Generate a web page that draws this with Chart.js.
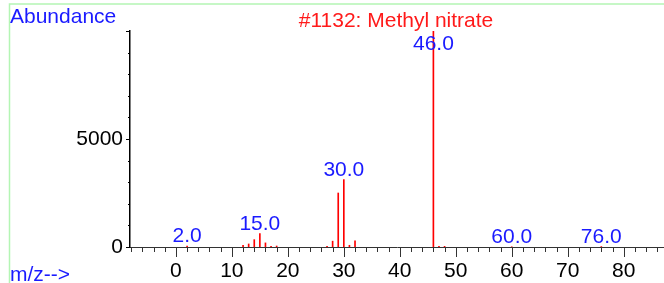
<!DOCTYPE html>
<html>
<head>
<meta charset="utf-8">
<script src="https://cdn.jsdelivr.net/npm/chart.js@4/dist/chart.umd.min.js"></script>
<style>
html,body{margin:0;padding:0;background:#fff;overflow:hidden;}
canvas{display:block;}
</style>
</head>
<body>
<canvas id="c" width="664" height="283"></canvas>
<script>
// m/z values and their abundances
const mz = [2, 12, 13, 14, 15, 16, 17, 18, 27, 28, 29, 30, 31, 32, 46, 47, 48, 60, 76];
const abundance = [40, 80, 140, 340, 620, 190, 30, 45, 30, 270, 2500, 3120, 80, 280, 9999, 30, 30, 10, 20];
// peaks that get a text label
const labeledPeaks = [2, 15, 30, 46, 60, 76];
// y tick values that get a text label
const yLabelTicks = [0, 5000];
const titleText = '#1132: Methyl nitrate';
const yAxisTitle = 'Abundance';
const xAxisTitle = 'm/z-->';

const FONT = '"Liberation Sans", Arial, sans-serif';
const FS = 21;

const decor = {
  id: 'decor',
  beforeDraw(chart) {
    const ctx = chart.ctx;
    ctx.save();
    ctx.fillStyle = '#fff';
    ctx.fillRect(0, 0, chart.width, chart.height);
    ctx.strokeStyle = '#b4f5b4';
    ctx.lineWidth = 1.5;
    ctx.beginPath();
    ctx.moveTo(9.5, chart.height);
    ctx.lineTo(9.5, 4);
    ctx.lineTo(chart.width, 4);
    ctx.stroke();
    ctx.restore();
  },
  afterDraw(chart) {
    const ctx = chart.ctx;
    const xs = chart.scales.x, ys = chart.scales.y;
    const ca = chart.chartArea;
    ctx.save();
    // x ticks
    ctx.strokeStyle = '#333';
    ctx.lineWidth = 1;
    for (let v = -8; v <= 88; v += 2) {
      const px = Math.round(xs.getPixelForValue(v)) + 0.5;
      if (px <= ca.left + 1 || px > ca.right) continue;
      const len = (v % 10 === 0) ? 10 : 5;
      ctx.beginPath();
      ctx.moveTo(px, ca.bottom);
      ctx.lineTo(px, ca.bottom + len);
      ctx.stroke();
    }
    // y ticks
    ctx.strokeStyle = '#000';
    for (let v = 0; v <= 10000; v += 1000) {
      const py = Math.round(ys.getPixelForValue(v)) + 0.5;
      const len = (v % 5000 === 0) ? 4 : 2;
      ctx.beginPath();
      ctx.moveTo(ca.left - len, py);
      ctx.lineTo(ca.left, py);
      ctx.stroke();
    }
    // texts
    ctx.font = FS + 'px ' + FONT;
    ctx.textBaseline = 'alphabetic';
    ctx.fillStyle = '#1a1aff';
    ctx.textAlign = 'left';
    ctx.fillText(yAxisTitle, 10, 23);
    ctx.fillText(xAxisTitle, 10, 281);
    ctx.fillStyle = '#ff1a1a';
    ctx.textAlign = 'center';
    ctx.fillText(titleText, 396, 27);
    // peak labels
    ctx.fillStyle = '#1a1aff';
    labeledPeaks.forEach(p => {
      const i = mz.indexOf(p);
      const px = xs.getPixelForValue(p);
      const py = Math.max(ys.getPixelForValue(abundance[i]) - 4, ca.top + 19);
      ctx.fillText(p.toFixed(1), px, py);
    });
    ctx.restore();
  }
};

new Chart(document.getElementById('c'), {
  type: 'bar',
  data: {
    datasets: [{
      data: mz.map((x, i) => ({ x: x, y: abundance[i] })),
      backgroundColor: '#ff0000',
      borderWidth: 0,
      barThickness: 1,
      grouped: false
    }]
  },
  options: {
    responsive: false,
    animation: false,
    devicePixelRatio: 1,
    layout: { padding: { top: 31, right: 0, left: 0, bottom: 0 } },
    plugins: { legend: { display: false }, tooltip: { enabled: false }, title: { display: false } },
    scales: {
      x: {
        type: 'linear',
        min: -8.2,
        max: 87.2,
        offset: false,
        grid: { display: false, drawTicks: false },
        border: { display: true, color: '#333', width: 1 },
        ticks: {
          stepSize: 2,
          autoSkip: false,
          maxRotation: 0,
          padding: 12,
          color: '#000',
          font: { family: FONT, size: FS },
          callback: v => (Math.abs(v % 10) < 1e-9 ? String(v) : '')
        },
        afterFit(s) { s.height = 36; s.paddingLeft = 0; s.paddingRight = 0; }
      },
      y: {
        min: 0,
        max: 10000,
        grid: { display: false, drawTicks: false },
        border: { display: true, color: '#000', width: 1.5 },
        ticks: {
          stepSize: 1000,
          autoSkip: false,
          padding: 7,
          color: '#000',
          font: { family: FONT, size: FS },
          callback: v => (yLabelTicks.includes(v) ? String(v) : '')
        },
        afterFit(s) { s.width = 130; s.paddingTop = 0; s.paddingBottom = 0; }
      }
    }
  },
  plugins: [decor]
});
</script>
</body>
</html>
